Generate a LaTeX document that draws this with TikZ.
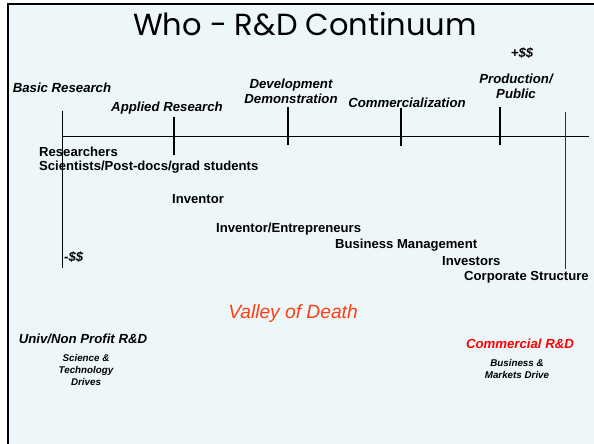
\documentclass[tikz,border=0pt]{standalone}
\usepackage{fontspec}
\setmainfont{Liberation Sans}
\newfontfamily\titlefont{Poppins}
\definecolor{slidebg}{RGB}{237,246,248}
\definecolor{valleyred}{RGB}{255,62,20}
\definecolor{commred}{RGB}{255,0,0}

\begin{document}
\begin{tikzpicture}[x=1pt, y=-1pt,
    stage/.style={font=\fontsize{13.2}{15}\selectfont\bfseries\itshape, inner sep=0, align=center},
    actor/.style={font=\fontsize{13.1}{15}\selectfont\bfseries, inner sep=0, anchor=west},
    drives/.style={font=\fontsize{9.8}{12}\selectfont\bfseries\itshape, inner sep=0, align=center},
    tick/.style={line width=2pt},
    axis/.style={line width=0.9pt}]
        \useasboundingbox (0,0) rectangle (594,444);
        \fill[slidebg] (8,4) rectangle (594,444);
        \draw[line width=2.5pt, line join=miter] (8,444) -- (8,4) -- (594,4);
        \node[font=\titlefont\fontsize{30.5}{34}\selectfont, inner sep=0] (title) at (305,24) {Who - R\&D Continuum};

        % the continuum
        \coordinate (L) at (62,136);
        \coordinate (R) at (589,136);
        \coordinate (Ltop) at (62,111);
        \coordinate (Lbot) at (62,268);
        \coordinate (Rtop) at (565,112);
        \coordinate (Rbot) at (565,269);
        \draw[axis] (L) -- (R);
        \draw[axis] (Ltop) -- (Lbot);
        \draw[axis, black!80] (Rtop) -- (Rbot);
        \draw[tick] (174,117) -- (174,155);
        \draw[tick] (288,107) -- (288,145);
        \draw[tick] (401,108) -- (401,146);
        \draw[tick] (500,107) -- (500,145);

        % stages
        \node[stage] (basic) at (62,88) {Basic Research};
        \node[stage] (applied) at (167,108) {Applied Research};
        \node[stage] (devel) at (291,91.5) {Development\\Demonstration};
        \node[stage] (commerc) at (407,103) {Commercialization};
        \node[stage] (plus) at (522,53) {+\$\$};
        \node[stage] (prod) at (516,86.5) {Production/\\Public};
        \node[stage, anchor=west] (minus) at (64,257) {-\$\$};

        % who
        \node[actor] (researchers) at (39,152) {Researchers};
        \node[actor] (scientists) at (39,167) {Scientists/Post-docs/grad students};
        \node[actor] (inventor) at (172,199) {Inventor};
        \node[actor] (entre) at (216,229) {Inventor/Entrepreneurs};
        \node[actor] (mgmt) at (335,245) {Business Management};
        \node[actor] (investors) at (442,261) {Investors};
        \node[actor] (corp) at (464,277) {Corporate Structure};

        \node[font=\fontsize{19.2}{22}\selectfont\itshape, text=valleyred, inner sep=0] (valley) at (293,314) {Valley of Death};

        \node[stage] (univ) at (83,339) {Univ/Non Profit R\&D};
        \node[drives] (science) at (86,370) {Science \&\\Technology\\Drives};
        \node[stage, text=commred] (commrd) at (520,344) {Commercial R\&D};
        \node[drives] (business) at (517,369) {Business \&\\Markets Drive};
\end{tikzpicture}
\end{document}
